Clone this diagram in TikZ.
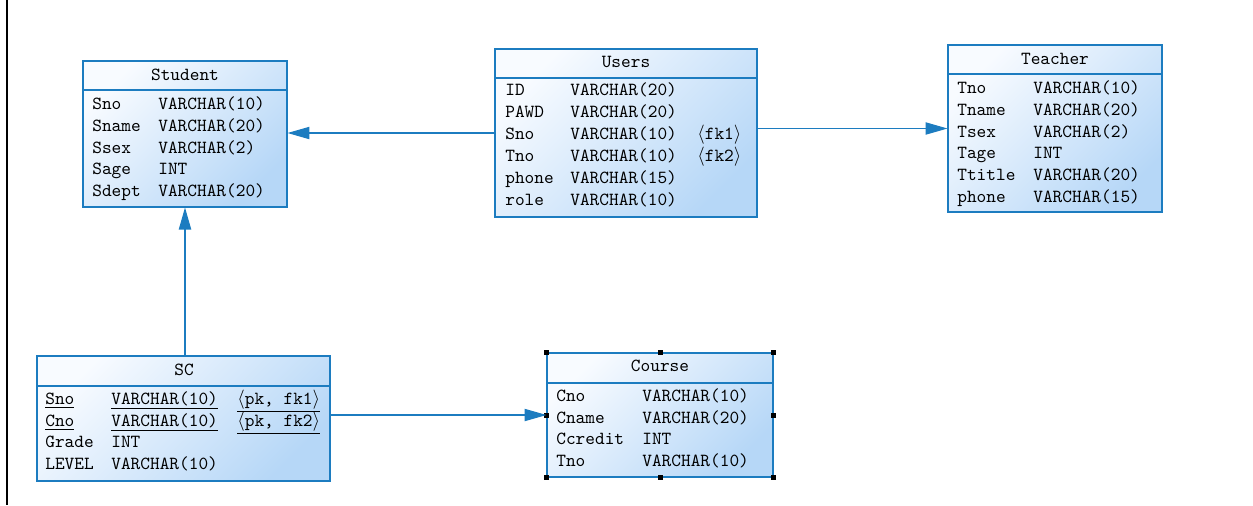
\documentclass[tikz,border=0pt]{standalone}
\usetikzlibrary{arrows.meta, fit}

\definecolor{erblue}{HTML}{1C7CC0}
\definecolor{erlight}{HTML}{F8FBFF}
\definecolor{erdark}{HTML}{B6D7F7}

\begin{document}
\begin{tikzpicture}[
  x=0.02cm, y=-0.02cm,
  tbl/.style={rectangle, draw=erblue, line width=0.6pt, top color=erlight, bottom color=erdark, shading angle=45, inner sep=0pt},
  sep/.style={draw=erblue, line width=0.6pt},
  ttl/.style={font=\ttfamily\fontsize{10.5}{12}\selectfont, inner sep=0pt},
  fld/.style={font=\ttfamily\fontsize{10.5}{12}\selectfont, anchor=mid west, inner sep=0pt, yshift=-1pt},
  arr/.style={draw=erblue, line width=0.6pt, -{Triangle[length=12.5pt, width=7pt]}},
  hdl/.style={fill=black}
]
  \useasboundingbox (0,0) rectangle (1253,505);
  \draw[line width=1pt] (7,0) -- (7,505);

  % Tables
  \node[tbl, fit={(83,61) (287,207)}] (student) {};
  \node[tbl, fit={(495,49) (757,217)}] (users) {};
  \node[tbl, fit={(948,45) (1162,212)}] (teacher) {};
  \node[tbl, fit={(37,356) (330,481)}] (sc) {};
  \node[tbl, fit={(547,353) (773,477)}] (course) {};

  % Header lines
  \draw[sep] (student.west |- 0,90) -- (student.east |- 0,90);
  \draw[sep] (users.west |- 0,78) -- (users.east |- 0,78);
  \draw[sep] (teacher.west |- 0,74) -- (teacher.east |- 0,74);
  \draw[sep] (sc.west |- 0,386) -- (sc.east |- 0,386);
  \draw[sep] (course.west |- 0,383) -- (course.east |- 0,383);

  % Titles
  \node[ttl] (student-h) at (185,75) {Student};
  \node[ttl] (users-h) at (626,62) {Users};
  \node[ttl] (teacher-h) at (1055,59) {Teacher};
  \node[ttl] (sc-h) at (184,370) {SC};
  \node[ttl] (course-h) at (660,366) {Course};

  % Fields
  \foreach \n/\t [count=\i from 0] in {Sno/VARCHAR(10), Sname/VARCHAR(20), Ssex/VARCHAR(2), Sage/INT, Sdept/VARCHAR(20)}{
    \node[fld] (student-n\i) at (92,104+21.75*\i) {\n};
    \node[fld] (student-t\i) at (158,104+21.75*\i) {\t};
  }
  \foreach \n/\t [count=\i from 0] in {ID/VARCHAR(20), PAWD/VARCHAR(20), Sno/VARCHAR(10), Tno/VARCHAR(10), phone/VARCHAR(15), role/VARCHAR(10)}{
    \node[fld] (users-n\i) at (505,90+22*\i) {\n};
    \node[fld] (users-t\i) at (570,90+22*\i) {\t};
  }
  \node[fld] (users-k2) at (697,134) {$\langle$fk1$\rangle$};
  \node[fld] (users-k3) at (697,156) {$\langle$fk2$\rangle$};
  \foreach \n/\t [count=\i from 0] in {Tno/VARCHAR(10), Tname/VARCHAR(20), Tsex/VARCHAR(2), Tage/INT, Ttitle/VARCHAR(20), phone/VARCHAR(15)}{
    \node[fld] (teacher-n\i) at (957,88+21.8*\i) {\n};
    \node[fld] (teacher-t\i) at (1033,88+21.8*\i) {\t};
  }
  \foreach \n/\t [count=\i from 0] in {\underline{Sno}/\underline{VARCHAR(10)}, \underline{Cno}/\underline{VARCHAR(10)}, Grade/INT, LEVEL/VARCHAR(10)}{
    \node[fld] (sc-n\i) at (45,399+21.7*\i) {\n};
    \node[fld] (sc-t\i) at (111,399+21.7*\i) {\t};
  }
  \node[fld] (sc-k0) at (237,399) {\underline{$\langle$pk, fk1$\rangle$}};
  \node[fld] (sc-k1) at (237,421) {\underline{$\langle$pk, fk2$\rangle$}};
  \foreach \n/\t [count=\i from 0] in {Cno/VARCHAR(10), Cname/VARCHAR(20), Ccredit/INT, Tno/VARCHAR(10)}{
    \node[fld] (course-n\i) at (556,396+21.7*\i) {\n};
    \node[fld] (course-t\i) at (642,396+21.7*\i) {\t};
  }

  % Selection handles
  \foreach \a in {north west, north, north east, east, south east, south, south west, west}
    \fill[hdl] (course.\a) ++(-2.5,-2.5) rectangle ++(5,5);

  % References
  \draw[arr] (users.west) -- (student.east |- users.west);
  \draw[arr] (users.east |- teacher.west) -- (teacher.west);
  \draw[arr] (sc.north -| student.south) -- (student.south);
  \draw[arr] (sc.east |- course.west) -- (course.west);
\end{tikzpicture}
\end{document}
